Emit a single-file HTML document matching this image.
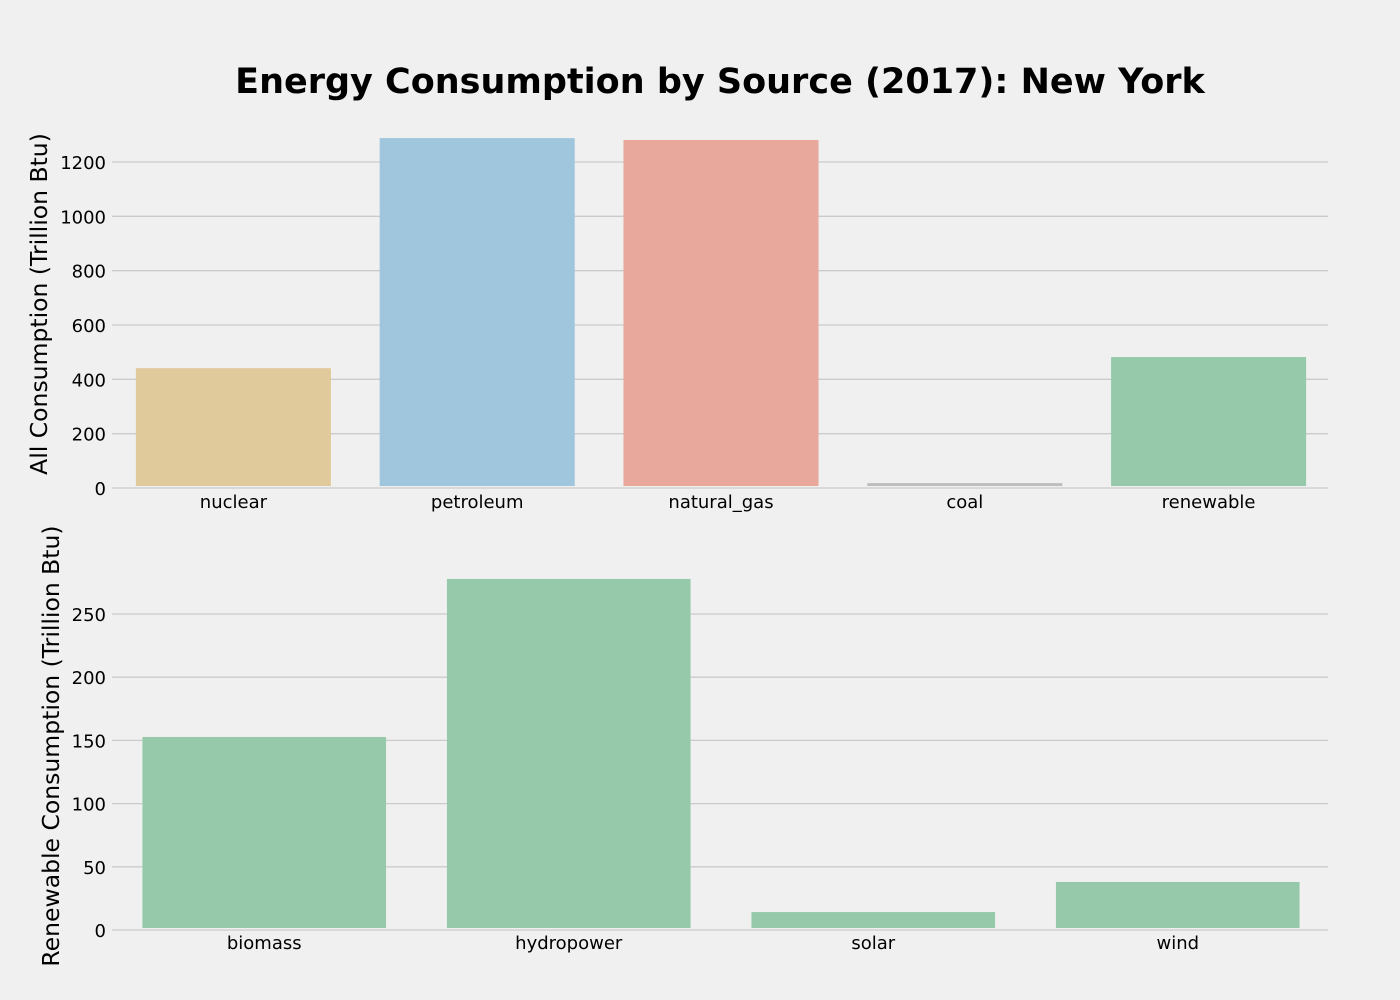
<!DOCTYPE html>
<html><head><meta charset="utf-8"><style>
body{margin:0;background:#f0f0f0;}
svg{display:block;font-family:"DejaVu Sans","Liberation Sans",sans-serif;}
</style></head><body>
<svg id="chart" width="1400" height="1000">
<rect width="1400" height="1000" fill="#f0f0f0"/>
<text x="720" y="93" text-anchor="middle" font-size="35" font-weight="bold">Energy Consumption by Source (2017): New York</text>
<text transform="translate(47,304) rotate(-90)" text-anchor="middle" font-size="23.5">All Consumption (Trillion Btu)</text>
<text transform="translate(59,746) rotate(-90)" text-anchor="middle" font-size="23.5">Renewable Consumption (Trillion Btu)</text>
<g id="top"></g><g id="bottom"></g>
</svg>
<script>
const topCategories=["nuclear","petroleum","natural_gas","coal","renewable"];
const topValues=[441,1288,1281,18,482];
const topColors=["#e0c99a","#9fc6dc","#e8a89b","#bdbdbd","#96c9a9"];
const topTicks=[0,200,400,600,800,1000,1200];
const botCategories=["biomass","hydropower","solar","wind"];
const botValues=[152.7,277.7,14.2,38];
const botTicks=[0,50,100,150,200,250];
const NS="http://www.w3.org/2000/svg";
function mk(tag,attrs,parent){const e=document.createElementNS(NS,tag);for(const k in attrs)e.setAttribute(k,attrs[k]);parent.appendChild(e);return e;}
function panel(g,cats,vals,colors,ticks,y0,pxPerUnit,x0,x1,gridEnd,name,labOff){
  const yS=v=>y0-v*pxPerUnit;
  const band=(x1-x0)/cats.length;
  ticks.forEach(t=>{
    const l=mk('line',{x1:112,x2:gridEnd,y1:yS(t),y2:yS(t),stroke:'#cbcbcb','stroke-width':1.3},g);
    
    
    const tx=mk('text',{x:106,y:yS(t)+7,'text-anchor':'end','font-size':18},g);
    tx.textContent=t;
    
    
  });
  cats.forEach((c,i)=>{
    const cx=x0+band*(i+0.5),w=band*0.8;
    const h=Math.max(vals[i]*pxPerUnit-2,2);
    const r=mk('rect',{x:cx-w/2,y:yS(vals[i]),width:w,height:h,fill:colors[i]},g);
    
    
    const tx=mk('text',{x:cx,y:y0+labOff,'text-anchor':'middle','font-size':18},g);
    tx.textContent=c;
    
    
  });
}
panel(document.getElementById('top'),topCategories,topValues,topColors,topTicks,488,326/1200,111.5,1330.5,1328,'top',20);
panel(document.getElementById('bottom'),botCategories,botValues,botCategories.map(()=>"#96c9a9"),botTicks,930,316/250,112,1330,1328,'bottom',19);
</script>
</body></html>
